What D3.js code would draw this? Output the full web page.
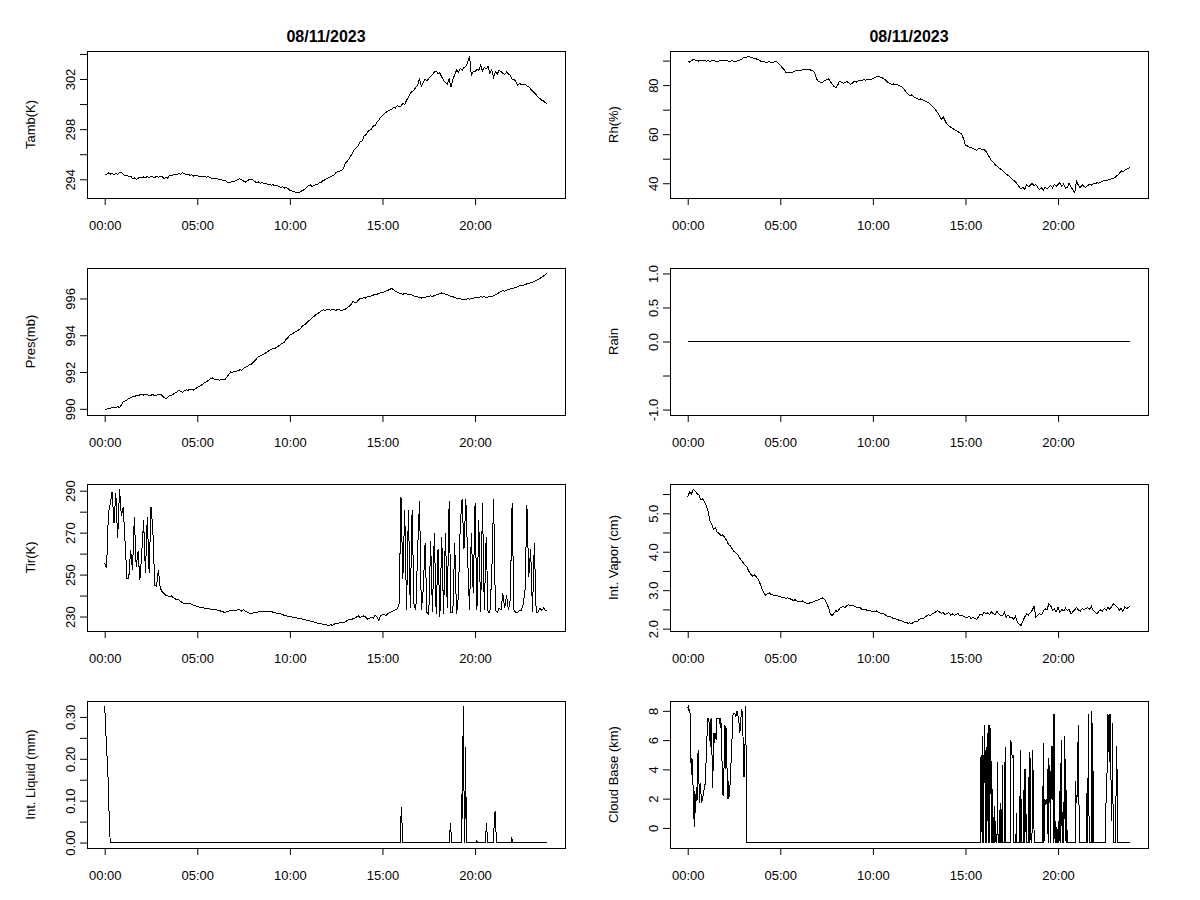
<!DOCTYPE html>
<html>
<head>
<meta charset="utf-8">
<script src="https://cdn.jsdelivr.net/npm/d3@7"></script>
<style>
  body { margin: 0; background: #fff; }
  text { font-family: "Liberation Sans", Arial, sans-serif; fill: #000; }
</style>
</head>
<body>
<svg id="chart" width="1200" height="900"></svg>
<script>
// sample times (hours), one every 6 minutes
const hours = d3.range(240).map(i => i / 10);

const dateTitle = '08/11/2023';
const timeTicks = [0, 5, 10, 15, 20];
const timeLabels = ['00:00', '05:00', '10:00', '15:00', '20:00'];

const tamb = [
  294.42, 294.38, 294.50, 294.41, 294.47, 294.36, 294.45, 294.40, 294.52, 294.55,
  294.38, 294.30, 294.33, 294.22, 294.26, 294.05, 294.12, 294.00, 294.08, 294.15,
  294.10, 294.18, 294.12, 294.22, 294.15, 294.25, 294.18, 294.12, 294.24, 294.16,
  294.20, 294.25, 294.02, 294.18, 294.10, 294.30, 294.28, 294.36, 294.42, 294.38,
  294.45, 294.40, 294.52, 294.47, 294.38, 294.40, 294.32, 294.36, 294.25, 294.30,
  294.28, 294.20, 294.26, 294.18, 294.24, 294.15, 294.22, 294.12, 294.05, 294.10,
  294.02, 294.06, 293.95, 294.00, 293.88, 293.92, 293.80, 293.72, 293.76, 293.85,
  293.82, 293.90, 293.98, 294.04, 293.95, 293.85, 293.78, 293.88, 293.98, 294.00,
  293.95, 293.82, 293.72, 293.78, 293.68, 293.74, 293.62, 293.68, 293.58, 293.62,
  293.52, 293.56, 293.48, 293.50, 293.42, 293.36, 293.40, 293.30, 293.34, 293.25,
  293.12, 293.06, 293.02, 292.96, 292.98, 292.94, 293.05, 293.10, 293.22, 293.32,
  293.48, 293.55, 293.42, 293.50, 293.56, 293.62, 293.72, 293.78, 293.90, 293.96,
  294.08, 294.12, 294.20, 294.28, 294.36, 294.55, 294.60, 294.66, 294.72, 294.90,
  295.30, 295.45, 295.62, 295.90, 296.15, 296.40, 296.55, 296.70, 297.00, 297.05,
  297.45, 297.55, 297.80, 297.92, 298.00, 298.24, 298.30, 298.55, 298.70, 298.95,
  299.10, 299.22, 299.35, 299.45, 299.52, 299.60, 299.75, 299.68, 299.90, 299.78,
  299.84, 300.05, 299.95, 300.30, 300.55, 300.85, 301.00, 301.10, 301.35, 301.50,
  302.05, 301.40, 301.75, 302.00, 301.85, 302.05, 302.20, 302.35, 302.55, 302.64,
  302.40, 302.50, 302.15, 301.90, 301.70, 301.60, 302.00, 301.36, 301.95, 302.35,
  302.70, 302.55, 302.85, 302.70, 302.95, 302.96, 303.35, 303.80, 302.30, 302.60,
  302.56, 302.80, 302.70, 303.10, 302.65, 302.90, 302.80, 303.00, 302.45, 302.75,
  302.16, 302.55, 302.40, 302.70, 302.60, 302.45, 302.35, 302.55, 302.40, 302.30,
  302.00, 301.95, 301.80, 301.50, 301.65, 301.55, 301.60, 301.57, 301.45, 301.40,
  301.20, 301.05, 300.90, 300.75, 300.56, 300.45, 300.30, 300.25, 300.10, 300.03
];

const rh = [
  89.5, 89.4, 90.0, 90.4, 90.2, 90.1, 89.8, 90.0, 89.9, 90.1,
  89.8, 90.0, 89.7, 89.9, 90.1, 89.8, 89.6, 89.9, 90.0, 90.2,
  89.9, 90.1, 89.8, 89.7, 90.0, 89.7, 89.6, 89.9, 90.2, 90.5,
  91.1, 91.2, 91.4, 91.7, 91.3, 91.2, 90.9, 90.7, 90.4, 90.0,
  89.5, 89.6, 89.3, 89.4, 89.5, 89.3, 89.2, 89.5, 89.5, 89.0,
  88.0, 87.2, 86.4, 85.3, 85.1, 85.0, 85.2, 85.4, 85.8, 86.0,
  86.1, 85.9, 86.3, 86.2, 86.5, 86.4, 86.3, 85.9, 85.7, 84.0,
  81.9, 81.5, 81.0, 81.3, 82.0, 82.2, 82.6, 81.5, 80.3, 79.5,
  78.9, 80.0, 81.6, 81.2, 80.8, 81.0, 81.5, 80.9, 80.3, 80.8,
  81.6, 81.2, 81.8, 82.0, 81.7, 82.3, 82.0, 82.5, 82.1, 82.4,
  82.6, 83.0, 83.4, 83.6, 83.3, 83.0, 82.6, 81.9, 81.2, 80.8,
  80.3, 80.5, 80.0, 80.4, 79.9, 79.6, 79.0, 78.2, 77.0, 76.3,
  75.8, 76.0, 75.2, 74.8, 74.5, 74.2, 74.4, 74.0, 73.6, 73.3,
  72.8, 72.2, 71.5, 70.8, 69.8, 68.8, 67.5, 66.1, 67.0, 65.5,
  64.1, 63.5, 62.8, 62.5, 61.8, 61.4, 61.0, 60.5, 60.0, 58.0,
  55.5, 55.2, 54.8, 54.5, 54.2, 53.9, 53.5, 54.0, 54.3, 53.6,
  53.9, 53.0, 51.8, 50.5, 49.2, 48.5, 47.6, 47.0, 46.2, 45.8,
  45.1, 44.5, 43.8, 43.2, 42.5, 41.8, 41.2, 40.5, 39.6, 38.5,
  37.7, 38.5, 37.4, 39.4, 38.6, 39.1, 40.0, 38.8, 39.5, 38.3,
  37.4, 38.2, 37.1, 38.5, 37.6, 38.4, 39.2, 38.1, 39.6, 38.8,
  39.5, 40.3, 38.6, 39.8, 37.9, 38.4, 40.1, 38.5, 37.2, 36.2,
  41.1, 39.0, 38.2, 39.4, 38.6, 38.4, 39.0, 39.6, 39.2, 39.8,
  39.7, 40.2, 40.0, 40.5, 40.8, 41.1, 40.9, 41.4, 41.6, 41.8,
  42.0, 42.5, 43.2, 43.8, 45.1, 44.6, 45.3, 45.8, 46.1, 46.5
];

const pres = [
  989.96, 989.98, 990.02, 990.00, 990.08, 990.10, 990.05, 990.12, 990.07, 990.20,
  990.38, 990.42, 990.48, 990.55, 990.60, 990.65, 990.66, 990.72, 990.70, 990.76,
  990.78, 990.75, 990.80, 990.76, 990.72, 990.74, 990.78, 990.70, 990.74, 990.80,
  990.80, 990.72, 990.62, 990.56, 990.62, 990.74, 990.70, 990.80, 990.86, 990.92,
  991.00, 990.95, 990.90, 990.98, 991.04, 991.00, 991.08, 991.05, 991.02, 991.10,
  991.16, 991.22, 991.28, 991.35, 991.42, 991.47, 991.55, 991.62, 991.69, 991.62,
  991.60, 991.58, 991.56, 991.62, 991.58, 991.60, 991.72, 991.88, 992.00, 991.98,
  992.05, 992.02, 992.08, 992.12, 992.10, 992.20, 992.25, 992.30, 992.38, 992.42,
  992.50, 992.62, 992.72, 992.83, 992.88, 992.92, 992.98, 993.05, 993.10, 993.18,
  993.24, 993.30, 993.28, 993.36, 993.42, 993.50, 993.56, 993.62, 993.78, 993.88,
  994.00, 994.05, 994.12, 994.18, 994.25, 994.30, 994.40, 994.52, 994.58, 994.66,
  994.77, 994.85, 994.95, 995.02, 995.12, 995.18, 995.25, 995.32, 995.38, 995.36,
  995.40, 995.42, 995.36, 995.40, 995.38, 995.36, 995.42, 995.38, 995.34, 995.38,
  995.42, 995.50, 995.58, 995.66, 995.84, 995.80, 995.78, 995.92, 996.02, 995.98,
  996.05, 996.02, 996.10, 996.08, 996.15, 996.18, 996.24, 996.22, 996.28, 996.30,
  996.33, 996.36, 996.40, 996.45, 996.50, 996.54, 996.48, 996.40, 996.33, 996.30,
  996.27, 996.22, 996.28, 996.25, 996.20, 996.22, 996.18, 996.14, 996.10, 996.08,
  996.05, 996.02, 996.08, 996.06, 996.12, 996.09, 996.14, 996.10, 996.16, 996.20,
  996.22, 996.26, 996.30, 996.28, 996.24, 996.20, 996.16, 996.12, 996.09, 996.06,
  996.02, 996.00, 995.98, 995.96, 995.94, 995.95, 995.98, 995.96, 996.00, 996.02,
  996.04, 996.08, 996.06, 996.10, 996.07, 996.09, 996.05, 996.08, 996.12, 996.10,
  996.14, 996.20, 996.26, 996.32, 996.38, 996.42, 996.40, 996.45, 996.48, 996.52,
  996.54, 996.56, 996.60, 996.64, 996.68, 996.72, 996.70, 996.75, 996.80, 996.82,
  996.85, 996.88, 996.92, 996.98, 997.02, 997.09, 997.15, 997.22, 997.30, 997.36
];

const tir = [
  255.4, 253.0, 279.2, 284.0, 289.5, 274.4, 288.7, 267.3, 290.6, 278.0,
  282.4, 265.7, 248.3, 248.3, 261.7, 252.2, 277.6, 253.8, 261.0, 247.5,
  260.2, 276.0, 250.6, 277.6, 250.6, 282.4, 271.3, 245.0, 244.3, 252.2,
  243.5, 241.9, 241.0, 240.2, 239.8, 239.5, 239.8, 239.0, 238.4, 238.2,
  237.9, 237.2, 236.6, 236.2, 236.4, 236.0, 236.5, 235.8, 235.4, 235.1,
  234.8, 234.5, 234.2, 234.4, 234.0, 234.0, 233.8, 233.6, 233.5, 233.4,
  233.2, 233.0, 232.8, 232.5, 232.2, 231.9, 232.3, 232.6, 232.8, 232.7,
  232.9, 233.0, 233.2, 233.1, 232.6, 233.2, 232.5, 232.0, 231.6, 231.4,
  231.6, 232.0, 231.8, 232.2, 232.4, 232.4, 232.6, 232.5, 232.3, 232.4,
  232.4, 232.0, 231.9, 231.5, 231.3, 231.3, 230.9, 230.6, 230.3, 230.2,
  230.0, 229.8, 229.7, 229.5, 229.3, 229.2, 229.0, 228.6, 228.4, 228.3,
  228.1, 227.8, 227.6, 227.4, 227.0, 226.8, 226.6, 226.5, 226.2, 226.1,
  226.0, 225.7, 226.1, 225.8, 226.4, 226.8, 226.6, 227.2, 227.4, 227.0,
  227.6, 228.1, 228.6, 228.3, 229.0, 229.2, 229.8, 230.3, 229.5, 230.1,
  230.3, 229.6, 228.8, 229.2, 229.6, 229.2, 230.5, 229.9, 228.2, 230.4,
  230.8, 231.0, 230.5, 231.4, 231.9, 232.4, 232.8, 233.2, 233.6, 236.3,
  287.0, 248.0, 281.0, 233.0, 281.0, 234.0, 281.0, 236.0, 233.0, 262.0,
  285.0, 233.0, 243.0, 265.0, 232.0, 231.0, 266.0, 232.0, 270.0, 231.0,
  262.0, 230.0, 268.0, 231.0, 270.0, 234.0, 285.0, 232.0, 232.0, 265.0,
  231.0, 240.0, 274.0, 286.0, 262.0, 286.0, 258.0, 233.0, 270.0, 241.0,
  284.0, 233.0, 276.0, 232.0, 284.0, 233.0, 268.0, 232.0, 232.0, 250.0,
  286.0, 233.0, 232.0, 234.0, 233.0, 241.0, 234.0, 240.0, 233.0, 238.0,
  284.0, 233.0, 232.0, 232.0, 233.0, 233.0, 236.0, 243.0, 283.0, 249.0,
  262.0, 232.0, 265.0, 232.0, 232.0, 234.0, 233.0, 234.0, 233.0, 233.0
];

const vapor = [
  5.42, 5.55, 5.50, 5.62, 5.58, 5.51, 5.48, 5.36, 5.38, 5.30,
  5.20, 5.05, 4.80, 4.70, 4.59, 4.62, 4.50, 4.48, 4.41, 4.44,
  4.37, 4.30, 4.19, 4.15, 4.08, 4.01, 3.98, 3.92, 3.84, 3.78,
  3.71, 3.65, 3.60, 3.49, 3.42, 3.37, 3.40, 3.35, 3.28, 3.18,
  3.05, 2.95, 2.87, 2.90, 2.93, 2.89, 2.88, 2.85, 2.87, 2.84,
  2.83, 2.80, 2.82, 2.78, 2.80, 2.78, 2.76, 2.73, 2.75, 2.72,
  2.71, 2.70, 2.72, 2.68, 2.66, 2.65, 2.67, 2.68, 2.70, 2.72,
  2.74, 2.76, 2.78, 2.80, 2.75, 2.67, 2.55, 2.39, 2.34, 2.40,
  2.47, 2.44, 2.52, 2.56, 2.58, 2.55, 2.60, 2.62, 2.60, 2.61,
  2.58, 2.56, 2.54, 2.55, 2.50, 2.49, 2.50, 2.47, 2.48, 2.46,
  2.45, 2.44, 2.46, 2.42, 2.40, 2.39, 2.38, 2.35, 2.32, 2.31,
  2.30, 2.26, 2.27, 2.24, 2.22, 2.21, 2.19, 2.17, 2.16, 2.14,
  2.15, 2.13, 2.17, 2.19, 2.18, 2.24, 2.27, 2.25, 2.30, 2.33,
  2.36, 2.33, 2.38, 2.40, 2.44, 2.47, 2.43, 2.40, 2.42, 2.36,
  2.39, 2.42, 2.35, 2.38, 2.34, 2.37, 2.39, 2.33, 2.35, 2.31,
  2.30, 2.28, 2.33, 2.26, 2.29, 2.26, 2.24, 2.30, 2.38, 2.35,
  2.43, 2.38, 2.41, 2.36, 2.44, 2.39, 2.35, 2.46, 2.38, 2.33,
  2.34, 2.42, 2.30, 2.36, 2.28, 2.30, 2.25, 2.33, 2.17, 2.12,
  2.08, 2.20, 2.30, 2.39, 2.35, 2.42, 2.47, 2.58, 2.30, 2.34,
  2.39, 2.36, 2.45, 2.52, 2.48, 2.65, 2.60, 2.47, 2.52, 2.44,
  2.55, 2.42, 2.50, 2.46, 2.53, 2.47, 2.50, 2.38, 2.44, 2.49,
  2.55, 2.48, 2.45, 2.52, 2.49, 2.52, 2.55, 2.50, 2.58, 2.47,
  2.43, 2.38, 2.45, 2.49, 2.46, 2.52, 2.48, 2.55, 2.50, 2.58,
  2.65, 2.60, 2.56, 2.47, 2.52, 2.45, 2.56, 2.52, 2.55, 2.58
];

// [hour, value] pairs
const rain = [[0, 0], [23.9, 0]];

const liquid = [
  [0.00, 0.325], [0.08, 0.244], [0.15, 0.187], [0.20, 0.133], [0.25, 0.045], [0.30, 0],
  [15.95, 0], [15.98, 0.041], [16.02, 0.086], [16.06, 0.04], [16.10, 0],
  [18.60, 0], [18.63, 0.02], [18.67, 0.047], [18.71, 0.02], [18.74, 0],
  [19.27, 0], [19.29, 0.117], [19.32, 0.057], [19.36, 0.325], [19.39, 0.193], [19.42, 0.03],
  [19.45, 0], [19.48, 0.228], [19.51, 0.11], [19.55, 0],
  [20.08, 0], [20.10, 0.005], [20.12, 0],
  [20.55, 0], [20.58, 0.02], [20.62, 0.047], [20.65, 0.02], [20.68, 0],
  [20.98, 0], [21.00, 0.02], [21.04, 0.045], [21.08, 0.075], [21.12, 0.04], [21.15, 0],
  [21.95, 0], [21.98, 0.012], [22.02, 0.005], [22.05, 0], [23.90, 0]
];

const cloudBase = [
  [0.00, 8.2], [0.04, 8.3], [0.08, 7.9], [0.12, 8.1], [0.16, 5.9], [0.19, 3.6], [0.23, 4.8],
  [0.27, 3.2], [0.31, 2.5], [0.35, 0.05], [0.39, 2.5], [0.43, 1.0], [0.47, 2.8], [0.51, 1.9],
  [0.56, 5.3], [0.60, 3.5], [0.64, 1.7], [0.69, 3.1], [0.74, 1.7], [0.80, 2.0], [0.86, 2.4],
  [0.92, 3.0], [0.96, 3.0], [1.00, 5.0], [1.04, 6.2], [1.08, 7.5], [1.14, 7.5], [1.18, 6.6],
  [1.22, 5.5], [1.26, 7.5], [1.30, 6.0], [1.34, 2.7], [1.38, 4.5], [1.42, 6.5], [1.46, 5.8],
  [1.50, 6.5], [1.54, 6.0], [1.58, 7.5], [1.66, 7.5], [1.72, 7.5], [1.76, 6.8],
  [1.79, 7.5], [1.83, 6.0], [1.87, 3.5], [1.91, 2.2], [1.95, 3.0], [1.99, 7.0], [2.03, 6.9],
  [2.06, 4.0], [2.10, 6.8], [2.14, 2.0], [2.18, 3.2], [2.22, 2.0], [2.26, 2.4], [2.31, 3.5],
  [2.36, 5.2], [2.41, 6.5], [2.45, 7.8], [2.55, 7.8], [2.60, 7.6], [2.65, 8.0], [2.70, 7.8],
  [2.76, 7.3], [2.82, 6.5], [2.87, 7.5], [2.92, 8.0], [2.97, 7.9], [3.01, 4.0], [3.04, 3.5],
  [3.08, 3.6], [3.11, 7.8], [3.14, 8.3], [3.17, -1],
  [15.80, -1], [15.84, 5.0], [15.87, 1.9], [15.90, -1], [15.93, 6.3], [15.96, 4.0], [15.98, -1],
  [16.00, 4.0], [16.04, 7.0], [16.07, -1], [16.11, 5.5], [16.14, -1], [16.17, 6.5], [16.19, 0.5],
  [16.21, 2.5], [16.24, -1], [16.27, 7.0], [16.30, -1], [16.33, 3.0], [16.37, 6.8], [16.40, -1],
  [16.43, 3.0], [16.46, -1], [16.52, -1], [16.55, 1.5], [16.58, -1], [16.62, 0.5], [16.65, -1],
  [16.70, -1], [16.73, 4.5], [16.76, -1], [16.84, -1], [16.87, 1.7], [16.90, -1], [16.96, -1],
  [16.99, 4.3], [17.02, -1], [17.11, -1], [17.14, 5.5], [17.17, -1], [17.42, -1], [17.45, 6.0],
  [17.48, 5.5], [17.51, 5.0], [17.54, 4.8], [17.57, 5.0], [17.60, -1], [17.72, -1], [17.75, 1.0],
  [17.78, -1], [17.93, -1], [17.96, 5.3], [17.99, -1], [18.02, 2.0], [18.05, -1], [18.14, -1],
  [18.17, 4.0], [18.20, -1], [18.23, 0.5], [18.25, 4.0], [18.28, -1], [18.38, -1], [18.41, 3.5],
  [18.45, -1], [18.48, 5.2], [18.51, 2.8], [18.54, -1], [18.59, -1], [18.62, 5.3], [18.65, 3.8],
  [18.68, 2.0], [18.71, -1],
  [19.17, -1], [19.20, 5.8], [19.24, -1], [19.27, 2.0], [19.30, 1.9], [19.34, 1.6], [19.37, 1.8],
  [19.40, 1.7], [19.43, 4.0], [19.46, -1], [19.49, 4.8], [19.52, 3.0], [19.55, 4.3], [19.58, -1],
  [19.61, 3.2], [19.64, 5.6], [19.67, 2.0], [19.71, 5.6], [19.74, -1], [19.78, 7.8], [19.81, 0.5],
  [19.84, -1], [19.88, 0.5], [19.91, -1], [19.96, -1], [20.02, 0.5], [20.05, -1], [20.09, 2.5],
  [20.12, -1], [20.17, 6.0], [20.20, 1.0], [20.23, -1], [20.28, 1.8], [20.31, -1], [20.36, 6.3],
  [20.40, 2.0], [20.43, -1], [20.46, 2.6], [20.49, -1], [20.56, -1],
  [20.92, -1], [20.95, 3.2], [20.98, 1.7], [21.02, 2.0], [21.05, 3.4], [21.09, 7.0], [21.12, 3.0],
  [21.15, -1], [21.54, -1], [21.57, 3.4], [21.61, -1], [21.64, 7.8], [21.67, 0.8], [21.70, -1],
  [21.80, -1], [21.83, 8.0], [21.86, -1], [21.90, 3.9], [21.93, -1],
  [22.57, -1], [22.60, 3.3], [22.64, 3.4], [22.68, 7.8], [22.72, 7.6], [22.76, 4.5], [22.80, 7.8],
  [22.84, 7.6], [22.87, 0.5], [22.90, 1.0], [22.94, 7.2], [22.97, 1.0], [23.00, -1], [23.10, -1],
  [23.13, 2.3], [23.17, 5.6], [23.20, 1.8], [23.23, -1], [23.89, -1]
];

// y ticks, with '' where the label is dropped for overlap
const tambTicks = [294, 296, 298, 300, 302, 304];
const tambLabels = ['294', '', '298', '', '302', ''];
const rhTicks = [40, 50, 60, 70, 80, 90];
const rhLabels = ['40', '', '60', '', '80', ''];
const presTicks = [990, 992, 994, 996];
const presLabels = ['990', '992', '994', '996'];
const rainTicks = [-1, -0.5, 0, 0.5, 1];
const rainLabels = ['-1.0', '', '0.0', '0.5', '1.0'];
const tirTicks = [230, 240, 250, 260, 270, 280, 290];
const tirLabels = ['230', '', '250', '', '270', '', '290'];
const vaporTicks = [2.0, 2.5, 3.0, 3.5, 4.0, 4.5, 5.0, 5.5];
const vaporLabels = ['2.0', '', '3.0', '', '4.0', '', '5.0', ''];
const liquidTicks = [0, 0.05, 0.10, 0.15, 0.20, 0.25, 0.30];
const liquidLabels = ['0.00', '', '0.10', '', '0.20', '', '0.30'];
const cloudTicks = [0, 2, 4, 6, 8];
const cloudLabels = ['0', '2', '4', '6', '8'];

const zip = (xs, ys) => ys.map((v, i) => [xs[i], v]);

const panels = [
  { col: 0, row: 0, label: 'Tamb(K)', data: zip(hours, tamb), ticks: tambTicks, labels: tambLabels, title: true },
  { col: 1, row: 0, label: 'Rh(%)', data: zip(hours, rh), ticks: rhTicks, labels: rhLabels, title: true },
  { col: 0, row: 1, label: 'Pres(mb)', data: zip(hours, pres), ticks: presTicks, labels: presLabels },
  { col: 1, row: 1, label: 'Rain', data: rain, ticks: rainTicks, labels: rainLabels, yRange: [-1, 1] },
  { col: 0, row: 2, label: 'Tir(K)', data: zip(hours, tir), ticks: tirTicks, labels: tirLabels },
  { col: 1, row: 2, label: 'Int. Vapor (cm)', data: zip(hours, vapor), ticks: vaporTicks, labels: vaporLabels },
  { col: 0, row: 3, label: 'Int. Liquid (mm)', data: liquid, ticks: liquidTicks, labels: liquidLabels },
  { col: 1, row: 3, label: 'Cloud Base (km)', data: cloudBase, ticks: cloudTicks, labels: cloudLabels }
];

// plot boxes
const colX = [87, 670];
const rowY = [51, 268, 484, 701];
const W = 478, H = 147;

// R-style 4% extension of the data range
function pad(ext) {
  const d = (ext[1] - ext[0]) * 0.04;
  return [ext[0] - d, ext[1] + d];
}

const svg = d3.select('#chart');
svg.append('rect').attr('width', 1200).attr('height', 900).attr('fill', '#fff');

const xDomain = pad([0, 23.9]);

panels.forEach(p => {
  const x0 = colX[p.col], y0 = rowY[p.row];
  const g = svg.append('g').attr('transform', `translate(${x0},${y0})`);

  const x = d3.scaleLinear().domain(xDomain).range([0, W]);
  const y = d3.scaleLinear()
    .domain(pad(p.yRange || d3.extent(p.data, d => d[1])))
    .range([H, 0]);

  const line = d3.line().x(d => x(d[0])).y(d => y(d[1]));
  g.append('path')
    .datum(p.data)
    .attr('d', line)
    .attr('fill', 'none')
    .attr('stroke', '#000')
    .attr('stroke-width', 1)
    .attr('shape-rendering', 'crispEdges'); // aliased like the original device

  // x axis
  const xa = g.append('g')
    .attr('transform', `translate(0,${H})`)
    .call(d3.axisBottom(x).tickValues(timeTicks).tickSize(7).tickSizeOuter(0)
      .tickFormat((d, i) => timeLabels[i]));
  xa.select('.domain').remove();
  xa.selectAll('line').attr('stroke', '#000');
  xa.selectAll('text')
    .attr('y', 32).attr('dy', 0)
    .attr('font-size', 13).attr('font-family', '"Liberation Sans", Arial, sans-serif');

  // y axis, labels parallel to the axis
  const ya = g.append('g')
    .call(d3.axisLeft(y).tickValues(p.ticks).tickSize(7).tickSizeOuter(0)
      .tickFormat((d, i) => p.labels[i]));
  ya.select('.domain').remove();
  ya.selectAll('line').attr('stroke', '#000');
  ya.selectAll('text')
    .attr('transform', 'rotate(-90)')
    .attr('x', 0).attr('y', -12).attr('dy', 0)
    .attr('text-anchor', 'middle')
    .attr('font-size', 13).attr('font-family', '"Liberation Sans", Arial, sans-serif');

  // box
  g.append('rect')
    .attr('x', 0.5).attr('y', 0.5)
    .attr('width', W).attr('height', H)
    .attr('fill', 'none').attr('stroke', '#000').attr('stroke-width', 1);

  // y title
  g.append('text')
    .attr('transform', `translate(-52,${H / 2}) rotate(-90)`)
    .attr('text-anchor', 'middle')
    .attr('font-size', 13)
    .text(p.label);

  if (p.title) {
    g.append('text')
      .attr('x', W / 2).attr('y', -9)
      .attr('text-anchor', 'middle')
      .attr('font-size', 16).attr('font-weight', 'bold')
      .text(dateTitle);
  }
});
</script>
</body>
</html>
